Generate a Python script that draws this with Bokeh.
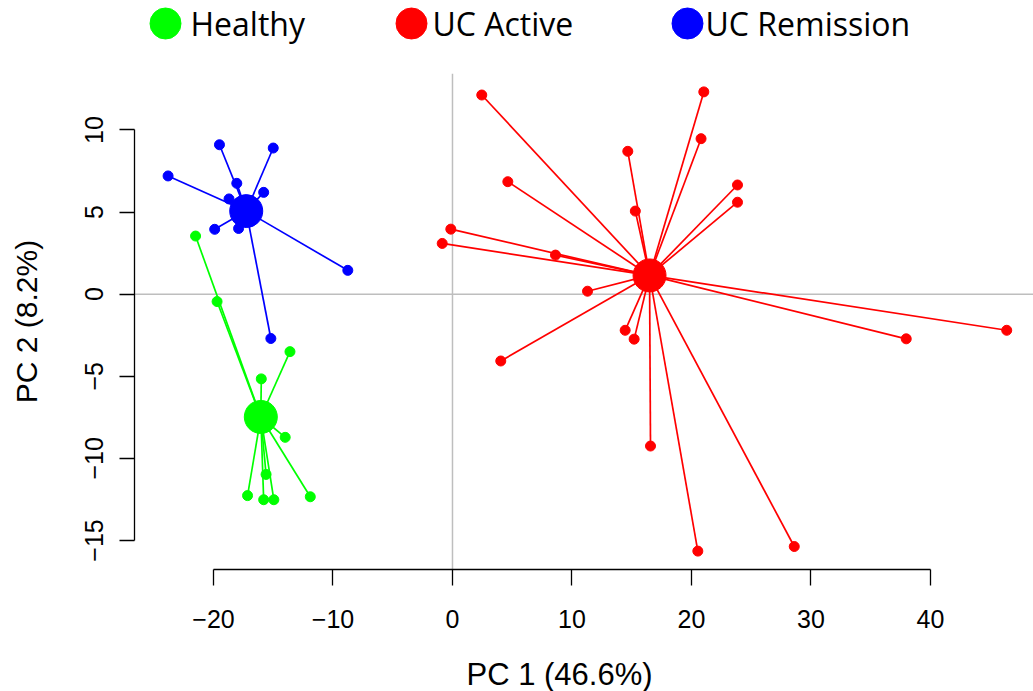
import numpy as np
from bokeh.plotting import figure
from bokeh.models import Range1d, FixedTicker, Span, LinearAxis
from bokeh.layouts import column
from bokeh.embed import file_html
from bokeh.resources import INLINE
from bokeh.core.properties import value

# ---------------- data ----------------
groups = ["Healthy", "UC Active", "UC Remission"]
colors = ["#00FF00", "#FF0000", "#0000FF"]

healthy_x = [-21.5, -19.7, -13.6, -16.0, -14.0, -15.6, -17.15, -15.8, -14.95, -11.9]
healthy_y = [3.54, -0.45, -3.5, -5.16, -8.72, -10.98, -12.27, -12.52, -12.52, -12.34]

active_x = [2.45, 21.03, 20.8, 14.67, 4.63, 15.3, -0.14, -0.86, 8.62, 11.3,
            14.45, 15.2, 4.04, 23.85, 23.85, 16.57, 20.53, 28.6, 37.97, 46.38]
active_y = [12.13, 12.32, 9.47, 8.70, 6.85, 5.06, 3.96, 3.09, 2.38, 0.18,
            -2.2, -2.74, -4.07, 6.65, 5.6, -9.25, -15.65, -15.37, -2.72, -2.2]

remission_x = [-23.8, -19.5, -15.0, -18.05, -15.8, -18.7, -19.9, -17.9, -8.76, -15.2]
remission_y = [7.2, 9.1, 8.9, 6.75, 6.2, 5.8, 3.95, 4.0, 1.45, -2.7]

centroid_x = [-16.04, 16.49, -17.26]
centroid_y = [-7.48, 1.14, 5.06]

x_ticks = [-20, -10, 0, 10, 20, 30, 40]
y_ticks = [-15, -10, -5, 0, 5, 10]
x_title = "PC 1 (46.6%)"
y_title = "PC 2 (8.2%)"

groups_x = [healthy_x, active_x, remission_x]
groups_y = [healthy_y, active_y, remission_y]


def tick_text(v):
    return ("\u2212" + str(abs(v))) if v < 0 else str(v)


W = 1033
LEFT = 134
LEG_H = 73
FRAME_H = 496
BOTTOM = 74
MAIN_H = FRAME_H + BOTTOM
TITLE_H = 691 - LEG_H - MAIN_H

font = "Liberation Sans"


def strip(height):
    f = figure(width=W, height=height, x_range=Range1d(LEFT, W), y_range=Range1d(height, 0),
               output_backend="svg", toolbar_location=None,
               x_axis_type=None, y_axis_type=None,
               min_border_left=LEFT, min_border_right=0, min_border_top=0,
               min_border_bottom=0)
    f.grid.visible = False
    f.outline_line_color = None
    return f


# ---------------- main plot ----------------
p = figure(width=W, height=MAIN_H,
           x_range=Range1d(-26.61, 48.62), y_range=Range1d(-16.77, 13.44),
           output_backend="svg", toolbar_location=None,
           x_axis_type=None, y_axis_type=None,
           min_border_left=LEFT, min_border_right=0, min_border_top=0,
           min_border_bottom=BOTTOM)
p.grid.visible = False
p.outline_line_color = None
p.background_fill_color = "white"
p.border_fill_color = "white"

p.add_layout(Span(location=0, dimension="width", line_color="#BEBEBE",
                  line_width=1.5, level="underlay"))
p.add_layout(Span(location=0, dimension="height", line_color="#BEBEBE",
                  line_width=1.5, level="underlay"))

for gx, gy, cx, cy, col in zip(groups_x, groups_y, centroid_x, centroid_y, colors):
    p.segment(x0=[cx] * len(gx), y0=[cy] * len(gy), x1=gx, y1=gy,
              line_color=col, line_width=1.7)
    p.scatter(gx, gy, size=10, fill_color=col, line_color=col)
    p.scatter([cx], [cy], size=33, fill_color=col, line_color=col)

xaxis = LinearAxis(ticker=FixedTicker(ticks=x_ticks), bounds=(-20, 40))
xaxis.major_label_overrides = {v: tick_text(v) for v in x_ticks}
yaxis = LinearAxis(ticker=FixedTicker(ticks=y_ticks), bounds=(-15, 10))
yaxis.major_label_overrides = {v: tick_text(v) for v in y_ticks}

for ax in (xaxis, yaxis):
    ax.axis_line_color = "black"
    ax.axis_line_width = 1.3
    ax.major_tick_line_color = "black"
    ax.major_tick_line_width = 1.3
    ax.major_tick_in = 0
    ax.minor_tick_line_color = None
    ax.major_label_text_font = font
    ax.major_label_text_font_size = "25px"
    ax.major_label_text_color = "black"
    ax.axis_label_text_font = font
    ax.axis_label_text_font_style = "normal"
    ax.axis_label_text_font_size = "30px"
    ax.axis_label_text_color = "black"

xaxis.major_tick_out = 16
xaxis.major_label_standoff = 24

yaxis.major_tick_out = 15
yaxis.major_label_orientation = "parallel"
yaxis.major_label_standoff = 16
yaxis.axis_label = y_title
yaxis.axis_label_standoff = 40

p.add_layout(xaxis, "below")
p.add_layout(yaxis, "left")

# ---------------- x-axis title strip (coordinates = pixels in strip) ----------------
xt = strip(TITLE_H)
xt.text(x=[559], y=[31], text=[x_title], text_baseline="alphabetic",
        text_align="center", text_font=value(font), text_font_size="31px",
        text_color="black")

# ---------------- legend (top strip, coordinates = page pixels) ----------------
legend_cx = [165, 411, 687]
legend_tx = [190, 432, 705]

lg = strip(LEG_H)
lg.scatter(legend_cx, [23] * 3, size=31, fill_color=colors, line_color=colors)
lg.text(x=legend_tx, y=[23] * 3, text=groups, text_baseline="alphabetic",
        text_align="left", text_font=value("Open Sans"), text_font_size="32px",
        text_color="black")

layout = column(lg, p, xt, spacing=0)

html = file_html(layout, INLINE, title="PCA")
with open("out.html", "w") as f:
    f.write(html)
